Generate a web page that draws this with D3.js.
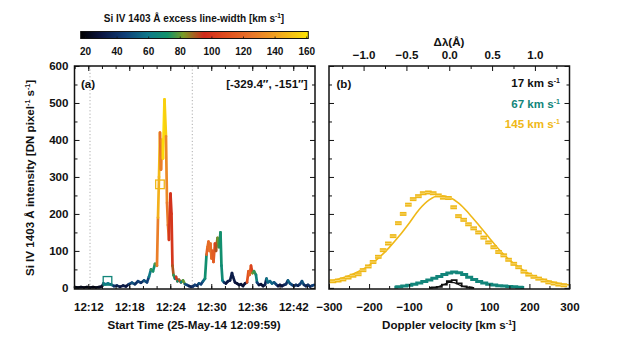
<!DOCTYPE html>
<html><head><meta charset="utf-8">
<script src="https://cdn.jsdelivr.net/npm/d3@7"></script>
<style>
body{margin:0;background:#fff}
svg{display:block}
text{font-family:"Liberation Sans",Arial,Helvetica,sans-serif;font-weight:bold;fill:#111}
</style>
</head><body><svg id="c" width="623" height="342"></svg>
<script>
// ---------------- DATA ----------------
// Panel (a): time in minutes after 12:09:59, intensity (DN/pixel/s), excess line width (km/s)
const tMin = [0.07,0.51,0.95,1.39,1.83,2.27,2.71,3.15,3.59,4.02,4.24,4.46,4.90,5.34,5.78,6.22,6.66,7.10,7.54,7.97,
  8.41,8.85,9.29,9.73,10.17,10.61,10.90,11.20,11.49,11.78,12.07,12.22,12.37,12.51,12.66,12.81,12.95,13.17,13.39,13.54,
  13.68,13.83,14.05,14.20,14.34,14.49,14.71,14.85,15.07,15.29,15.59,15.88,16.17,16.46,16.76,17.05,17.34,17.63,17.93,18.22,
  18.51,18.81,19.10,19.32,19.46,19.61,19.76,19.90,20.05,20.20,20.34,20.56,20.71,20.93,21.15,21.37,21.51,21.66,21.88,22.17,
  22.46,22.76,23.05,23.20,23.49,23.78,24.08,24.37,24.66,24.95,25.25,25.46,25.61,25.83,26.05,26.27,26.56,26.71,27.00,27.29,
  27.59,27.88,28.10,28.32,28.61,28.90,29.20,29.49,29.78,30.07,30.37,30.66,30.95,31.24,31.54,31.83,32.12,32.42,32.71,33.00,
  33.29,33.59,33.88,34.17,34.46,34.76,35.05];
const intensity = [2,1,2,1,2,1,2,1,2,4,12,10,12,9,5,6,3,6,4,10,
  14,10,18,14,20,15,30,50,45,65,60,190,300,420,320,400,350,510,410,230,
  170,130,255,200,60,35,25,30,18,22,15,20,10,8,5,3,4,8,6,12,
  10,18,25,90,110,125,100,120,80,100,70,120,100,135,110,150,60,20,15,12,
  18,20,40,30,15,12,8,10,5,12,15,45,35,60,40,45,35,15,8,10,
  5,8,25,15,18,12,15,10,5,8,5,8,10,20,12,8,5,8,6,10,
  18,8,5,8,4,6,8];
const lineWidth = [22,20,22,20,21,22,20,22,24,28,55,60,62,50,40,35,30,32,30,45,
  50,40,45,40,50,45,60,75,70,78,128,145,148,122,128,142,158,155,132,126,
  120,100,98,100,90,75,60,100,70,90,65,80,50,45,35,35,40,45,40,50,
  45,55,70,118,124,120,125,122,120,115,115,105,90,80,75,70,68,60,40,30,
  32,32,33,32,30,28,28,28,28,30,110,115,118,105,80,75,65,45,30,28,
  28,35,60,55,55,55,50,45,30,30,30,35,40,55,50,45,40,40,35,45,
  50,40,35,40,35,45,50];
// profile markers shown on the light curve
const markerT = [4.83, 12.51];
const markerI = [19, 280];
const markerW = [67, 145];
const dottedT = [2.27, 17.24];

// Colour bar
const cbTicks = [20,40,60,80,100,120,140,160];
const cbStopVals = [17,30,45,60,72,82,95,110,125,140,155,161];
const cbStopCols = ["#000000","#0b1540","#103f78","#0f7a8a","#12936a","#7a9a25","#d02a1c","#e0501f","#e8752a","#f0a020","#f8cf10","#ffe800"];

// Panel (b): profiles
const vel145 = [-290,-277,-265,-252,-240,-227,-215,-202,-190,-177,-165,-152,-140,-127,-115,-102,-90,-77,-65,-52,-40,-27,-15,-2,
  11,23,36,48,61,73,86,98,111,123,136,148,161,173,186,198,211,223,236,248,261,273,286];
const prof145 = [18,20,23,28,33,37,48,58,70,84,102,120,140,175,200,225,240,248,256,258,256,250,244,243,
  218,194,184,172,161,150,136,123,110,97,88,76,65,56,44,36,30,25,20,15,12,9,7];
const fitVel = [-300,-275,-250,-225,-200,-175,-150,-125,-100,-75,-50,-25,0,25,50,75,100,125,150,175,200,225,250,275,300];
const fit145 = [17,24,33,45,61,82,109,140,175,212,238,250,245,228,200,168,135,103,76,55,38,26,18,12,8];
const vel67 = [-137,-125,-112,-100,-87,-75,-62,-50,-37,-25,-12,0,12,25,37,50,62,75,87,100,112,125,137,150,162,175,187];
const prof67 = [2,3,5,7,10,13,17,21,26,31,36,40,43,41,36,29,23,17,13,10,8,6,5,4,3,2,1];
const vel17 = [-50,-37,-25,-12,0,12,25,37,50,62];
const prof17 = [0,1,3,9,18,21,12,4,1,0];
const fit17 = [0,1,4,10,15,14,8,3,1,0];
const legendLabels = ["17","67","145"];
const legendCols = ["#111111","#12857a","#efb817"];

// ---------------- DRAW ----------------
const FS = 11.6;
const svg = d3.select("#c");
const start = new Date(2014,4,25,12,9,59);
const toDate = m => new Date(start.getTime() + m*60000);
const A = {l:74.5, r:315, t:66, b:289};
const B = {l:329, r:569.5, t:66, b:289};

const x = d3.scaleTime().domain([start, toDate(35.2)]).range([A.l, A.r]);
const y = d3.scaleLinear().domain([-3,600]).range([A.b, A.t]);
const xv = d3.scaleLinear().domain([-300,300]).range([B.l, B.r]);
const xl = d3.scaleLinear().domain([-300/213.7, 300/213.7]).range([B.l, B.r]);
const color = d3.scaleLinear().domain(cbStopVals).range(cbStopCols).clamp(true);

// ---- colour bar
const cb = d3.scaleLinear().domain([17,161]).range([80.7,308.3]);
const defs = svg.append("defs");
const grad = defs.append("linearGradient").attr("id","cbg");
cbStopVals.forEach((v,i)=>grad.append("stop").attr("offset",(cb(v)-cb(17))/(cb(161)-cb(17))).attr("stop-color",cbStopCols[i]));
svg.append("rect").attr("x",cb(17)).attr("y",31.5).attr("width",cb(161)-cb(17)).attr("height",7)
  .attr("fill","url(#cbg)").attr("stroke","#111").attr("stroke-width",1);
cbTicks.forEach(v=>{
  svg.append("line").attr("x1",cb(v)).attr("x2",cb(v)).attr("y1",38.5).attr("y2",36.5).attr("stroke","#111").attr("stroke-width",0.8);
  svg.append("text").attr("x",cb(v)).attr("y",55).attr("text-anchor","middle").attr("font-size",10).text(v);
});
const cbt = svg.append("text").attr("x",194).attr("y",22).attr("text-anchor","middle").attr("font-size",10);
cbt.append("tspan").text("Si IV 1403 Å excess line-width [km s");
cbt.append("tspan").attr("font-size",6.5).attr("dy",-4).text("-1");
cbt.append("tspan").attr("dy",4).text("]");

// ---- axes helper
function axes(P, xs, majX, minX, ys, showYLabels, xFmt, showXLabels, topTicks){
  const g = svg.append("g");
  g.append("g").attr("transform",`translate(0,${P.b})`).call(d3.axisBottom(xs).tickValues(minX).tickSize(-3).tickFormat(""));
  g.append("g").attr("transform",`translate(0,${P.b})`).call(d3.axisBottom(xs).tickValues(majX).tickSize(-5).tickPadding(14).tickFormat(showXLabels?xFmt:""));
  if(topTicks){
    g.append("g").attr("transform",`translate(0,${P.t})`).call(d3.axisTop(xs).tickValues(minX).tickSize(-3).tickFormat(""));
    g.append("g").attr("transform",`translate(0,${P.t})`).call(d3.axisTop(xs).tickValues(majX).tickSize(-5).tickFormat(""));
  }
  const yMaj = d3.range(0,601,100), yMin = d3.range(50,600,100);
  g.append("g").attr("transform",`translate(${P.l},0)`).call(d3.axisLeft(ys).tickValues(yMin).tickSize(-3).tickFormat(""));
  g.append("g").attr("transform",`translate(${P.l},0)`).call(d3.axisLeft(ys).tickValues(yMaj).tickSize(-5).tickPadding(6).tickFormat(showYLabels?d3.format("d"):""));
  g.append("g").attr("transform",`translate(${P.r},0)`).call(d3.axisRight(ys).tickValues(yMin).tickSize(-3).tickFormat(""));
  g.append("g").attr("transform",`translate(${P.r},0)`).call(d3.axisRight(ys).tickValues(yMaj).tickSize(-5).tickFormat(""));
  g.selectAll(".domain").remove();
  g.selectAll(".tick line").attr("stroke","#111").attr("stroke-width",1);
  g.selectAll(".tick text").attr("font-size",FS).attr("fill","#111").attr("font-family",null);
  g.append("rect").attr("x",P.l).attr("y",P.t).attr("width",P.r-P.l).attr("height",P.b-P.t)
   .attr("fill","none").attr("stroke","#111").attr("stroke-width",1.5);
  return g;
}

// ---- panel (a) content
const pa = svg.append("g");
dottedT.forEach(t=>pa.append("line").attr("x1",x(toDate(t))).attr("x2",x(toDate(t))).attr("y1",A.t).attr("y2",A.b)
  .attr("stroke","#999").attr("stroke-width",0.8).attr("stroke-dasharray","1.2,2.2"));
for(let i=0;i<tMin.length-1;i++){
  pa.append("line").attr("x1",x(toDate(tMin[i]))).attr("y1",y(intensity[i]))
    .attr("x2",x(toDate(tMin[i+1]))).attr("y2",y(intensity[i+1]))
    .attr("stroke",color(lineWidth[i])).attr("stroke-width",2.7).attr("stroke-linecap","round");
}
markerT.forEach((t,i)=>pa.append("rect").attr("x",x(toDate(t))-4.3).attr("y",y(markerI[i])-4.3).attr("width",8.6).attr("height",8.6)
  .attr("fill","none").attr("stroke",i==0?"#12857a":"#efb817").attr("stroke-width",1.3));

const majT = d3.timeMinute.every(6).range(toDate(0), toDate(35.3));
const minT = d3.timeMinute.every(2).range(toDate(0), toDate(35.3));
axes(A, x, majT, minT, y, true, d3.timeFormat("%H:%M"), true, true);

svg.append("text").attr("x",81).attr("y",88).attr("font-size",FS).text("(a)");
svg.append("text").attr("x",307.5).attr("y",88).attr("font-size",FS).attr("text-anchor","end").text("[-329.4″, -151″]");
svg.append("text").attr("x",194).attr("y",329).attr("font-size",FS).attr("text-anchor","middle").text("Start Time (25-May-14 12:09:59)");
const yl = svg.append("text").attr("transform","translate(34,178) rotate(-90)").attr("text-anchor","middle").attr("font-size",FS);
yl.append("tspan").text("Si IV 1403 Å intensity [DN pixel");
yl.append("tspan").attr("font-size",7).attr("dy",-4).text("-1");
yl.append("tspan").attr("dy",4).text(" s");
yl.append("tspan").attr("font-size",7).attr("dy",-4).text("-1");
yl.append("tspan").attr("dy",4).text("]");

// ---- panel (b) content
const pb = svg.append("g");
const lineV = d3.line().x(d=>xv(d[0])).y(d=>y(d[1]));
pb.append("path").attr("d",lineV.curve(d3.curveMonotoneX)(fitVel.map((v,i)=>[v,fit145[i]])))
  .attr("fill","none").attr("stroke","#efb817").attr("stroke-width",1.6);
vel145.forEach((v,i)=>{
  pb.append("rect").attr("x",xv(v)-3.3).attr("y",y(prof145[i])-2).attr("width",6.6).attr("height",4).attr("fill","#efb817");
  pb.append("line").attr("x1",xv(v)-3.3).attr("x2",xv(v)+3.3).attr("y1",y(prof145[i])).attr("y2",y(prof145[i])).attr("stroke","#f8df8a").attr("stroke-width",0.8);
});
pb.append("path").attr("d",d3.line().x(d=>xv(d[0])).y(d=>y(d[1])).curve(d3.curveStep)(vel67.map((v,i)=>[v,prof67[i]])))
  .attr("fill","none").attr("stroke","#12857a").attr("stroke-width",3);
pb.append("path").attr("d",d3.line().x(d=>xv(d[0])).y(d=>y(d[1])).curve(d3.curveStep)(vel17.map((v,i)=>[v,prof17[i]])))
  .attr("fill","none").attr("stroke","#111").attr("stroke-width",1.8);
pb.append("path").attr("d",d3.line().x(d=>xv(d[0])).y(d=>y(d[1])).curve(d3.curveMonotoneX)(vel17.map((v,i)=>[v,fit17[i]])))
  .attr("fill","none").attr("stroke","#111").attr("stroke-width",1.2);

axes(B, xv, d3.range(-300,301,100), d3.range(-250,300,100), y, false, d3.format("d"), true, false);
// top delta-lambda axis
const gt = svg.append("g").attr("transform",`translate(0,${B.t})`);
gt.append("g").call(d3.axisTop(xl).tickValues(d3.range(-1.25,1.3,0.5)).tickSize(-3).tickFormat(""));
gt.append("g").call(d3.axisTop(xl).tickValues([-1,-0.5,0,0.5,1]).tickSize(-5).tickPadding(7.5).tickFormat(d3.format(".1f")));
gt.selectAll(".domain").remove();
gt.selectAll(".tick line").attr("stroke","#111");
gt.selectAll(".tick text").attr("font-size",FS).attr("fill","#111").attr("font-family",null);
svg.append("text").attr("x",449).attr("y",46).attr("text-anchor","middle").attr("font-size",FS).text("Δλ(Å)");

svg.append("text").attr("x",336.5).attr("y",88).attr("font-size",FS).text("(b)");
legendLabels.forEach((s,i)=>{
  const t = svg.append("text").attr("x",560).attr("y",87+i*20.5).attr("text-anchor","end").attr("font-size",FS).style("fill",legendCols[i]);
  t.append("tspan").text(s+" km s");
  t.append("tspan").attr("font-size",7).attr("dy",-4).text("-1");
});
const xt = svg.append("text").attr("x",449).attr("y",329).attr("text-anchor","middle").attr("font-size",FS);
xt.append("tspan").text("Doppler velocity [km s");
xt.append("tspan").attr("font-size",7).attr("dy",-4).text("-1");
xt.append("tspan").attr("dy",4).text("]");
</script></body></html>
